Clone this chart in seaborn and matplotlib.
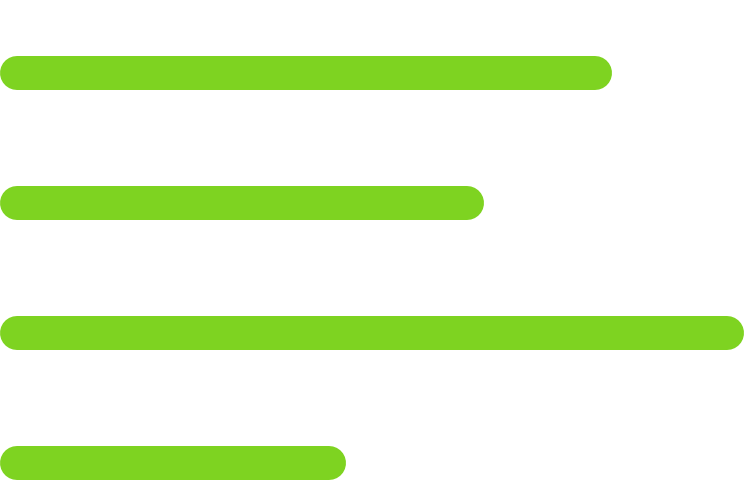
import numpy as np
import pandas as pd
import matplotlib
matplotlib.use('Agg')
import matplotlib.pyplot as plt
import seaborn as sns

# bar data (lengths in px-like units, axis spans 0..752)
categories = ['A', 'B', 'C', 'D']
values = [612, 484, 744, 346]
bar_color = '#7ED321'

df = pd.DataFrame({'cat': categories, 'val': values})

fig = plt.figure(figsize=(7.52, 4.8), dpi=100)
ax = fig.add_axes([0, 0, 1, 1])
sns.barplot(data=df, x='val', y='cat', orient='h', color=bar_color,
            width=0.26, ax=ax)

ax.set_xlim(0, 752)
ax.set_ylim(3 + 17 / 130, -73 / 130)

# swap square bars for round-capped lines
lw_pt = 34 * 72 / fig.dpi
r = 17  # cap radius in data units (1 unit = 1 px)
for p in ax.patches:
    p.set_visible(False)
    x0 = p.get_x()
    x1 = x0 + p.get_width()
    yc = p.get_y() + p.get_height() / 2
    ax.plot([x0 + r, x1 - r], [yc, yc], color=bar_color, lw=lw_pt,
            solid_capstyle='round')

ax.set_axis_off()
fig.savefig('out.png', dpi=100)
